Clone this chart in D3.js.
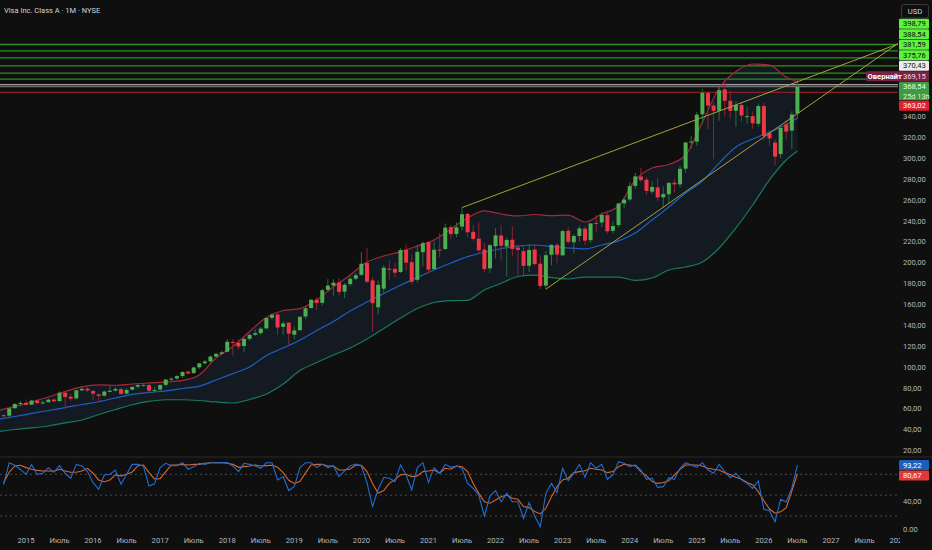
<!DOCTYPE html>
<html><head><meta charset="utf-8">
<script src="https://cdn.jsdelivr.net/npm/d3@7"></script>
<style>
html,body{margin:0;padding:0;background:#0f0f0f;overflow:hidden}
svg{display:block}
text{font-family:'Liberation Sans Narrow','Roboto',sans-serif}
</style></head>
<body><svg id="c" width="932" height="550"></svg>
<script>
// ---------- DATA ----------
const title = "Visa Inc. Class A · 1M · NYSE";
const firstBar = {year: 2014, month: 9}; // monthly bars start Sep 2014
const opens = [53.8,53.4,60.5,64.6,
65.6,63.9,67.9,65.5,66.3,68.8,67.3,75.4,71.5,69.9,77.6,79.3,
77.1,73.8,72.5,76.2,77.4,78.8,74.5,78.2,81.2,82.8,82.6,77.7,
78.4,82.9,88.0,89.0,91.4,95.5,94.2,99.7,103.6,105.4,110.0,112.6,
114.6,124.0,123.3,120.1,127.0,130.9,132.5,137.0,147.1,150.3,138.5,142.5,
131.0,135.3,148.4,156.5,164.5,161.5,173.9,178.0,181.0,172.2,179.5,184.6,
188.3,199.6,183.0,157.2,175.0,194.2,194.0,191.0,212.3,200.4,183.5,210.0,
219.6,193.8,212.5,213.0,234.0,227.5,234.5,246.6,229.5,223.0,212.5,194.5,
215.7,226.0,215.5,222.0,214.5,211.0,197.0,212.5,199.0,178.0,207.5,217.0,
207.0,230.5,219.5,225.5,232.5,221.5,238.0,238.5,245.5,230.5,236.0,256.7,
260.5,273.5,282.5,279.5,268.0,272.0,262.5,265.5,276.5,275.0,290.0,315.5,
316.0,342.0,362.5,350.5,345.5,366.0,355.0,345.5,351.0,339.8,340.3,333.0,
350.0,324.0,315.0,304.0,332.5,326.5,343.0];
const highs = [54.7,61.0,65.2,67.4,
68.6,68.7,69.7,67.9,69.8,70.1,76.8,77.0,74.5,78.3,81.7,80.6,
77.4,74.5,77.3,81.7,80.7,80.1,79.8,81.6,83.4,83.7,83.9,80.9,
83.3,88.6,90.1,92.3,95.8,96.9,100.2,104.0,106.8,111.1,113.6,115.6,
126.9,126.9,126.5,128.6,132.4,136.2,138.5,147.4,151.6,151.4,143.9,142.8,
138.8,148.4,158.4,165.1,166.8,175.0,184.1,184.1,185.2,180.5,187.1,190.0,
210.1,214.2,186.0,183.0,197.5,202.2,199.7,214.0,217.4,208.0,217.4,220.4,
220.4,220.4,228.3,237.5,236.0,238.6,252.7,248.0,236.0,238.6,219.0,218.0,
233.0,235.9,224.0,235.0,217.0,217.0,217.6,217.6,207.0,211.0,217.6,219.0,
231.5,234.3,227.4,235.6,234.5,238.0,245.4,248.2,250.0,240.0,257.0,263.3,
277.0,286.0,291.0,282.0,278.0,281.0,273.0,277.5,280.0,293.0,316.0,321.6,
344.5,366.5,364.0,354.0,367.0,375.5,364.5,355.0,354.0,349.0,345.0,352.5,
353.0,327.0,318.0,331.0,336.0,345.0,375.5];
const lows = [52.0,50.8,59.9,62.3,
63.2,63.5,64.5,64.1,65.9,66.5,67.0,60.0,67.6,68.8,77.2,76.1,
67.7,66.1,71.7,75.9,76.6,73.3,73.8,77.9,79.2,80.8,75.2,75.2,
77.1,81.5,86.5,87.6,89.3,92.9,93.5,98.0,102.2,104.5,109.3,111.3,
114.3,111.0,116.8,114.0,125.1,129.6,130.5,136.0,145.3,130.6,131.1,121.6,
126.4,134.4,146.1,156.1,154.5,158.8,171.5,168.0,168.3,166.0,177.0,183.1,
187.3,180.4,133.9,150.6,171.1,184.0,185.6,190.0,192.0,179.2,181.0,196.3,
190.1,192.8,205.3,212.0,222.7,224.4,230.5,224.6,221.0,208.6,191.0,190.1,
204.0,201.7,186.7,206.0,185.9,186.7,191.0,197.0,174.6,174.6,197.5,199.5,
206.5,218.0,208.8,220.0,217.0,219.0,229.4,234.0,227.6,227.8,234.0,252.0,
258.9,271.0,277.0,265.0,265.8,258.6,252.7,256.0,267.0,272.0,286.0,309.0,
312.0,333.0,328.0,299.0,336.0,340.0,338.0,330.0,335.0,333.0,328.0,330.0,
317.0,312.0,293.0,300.0,318.0,309.0,338.0];
const closes = [53.35,60.35,64.55,65.55,
63.72,67.83,65.41,66.05,68.68,67.15,75.34,71.3,69.66,77.58,79.02,77.55,
74.49,72.39,76.48,77.24,78.94,74.17,78.05,80.9,82.7,82.51,77.33,78.02,
82.71,87.94,88.87,91.22,95.23,93.78,99.56,103.51,105.24,109.98,112.59,114.02,
124.23,122.94,119.62,126.88,130.73,132.45,136.74,146.89,150.09,137.85,141.71,131.94,
135.01,148.12,156.19,164.43,161.34,173.55,178.0,180.82,172.01,178.86,184.51,187.9,
198.97,181.76,161.12,178.71,195.23,193.17,190.4,211.99,199.97,181.71,210.35,218.73,
193.24,212.39,211.73,233.56,227.3,233.82,246.38,229.1,222.75,211.77,193.78,216.71,
226.17,216.11,221.77,213.13,212.17,196.89,212.11,198.65,177.65,207.16,217.0,207.76,
230.21,219.94,225.46,232.73,221.05,237.48,237.73,245.67,230.01,235.1,256.69,260.35,
273.26,282.63,279.08,268.61,272.46,262.47,265.68,276.35,274.95,289.85,315.06,316.04,
341.79,362.66,350.46,345.47,365.23,355.05,345.48,351.0,341.0,340.3,333.5,350.0,
321.3,319.0,301.5,329.0,325.5,342.0,368.54];

// Bollinger band readings (month offset from Jan 2015)
const bandMonths = [-5,-2,1,4,7,10,13,16,19,22,25,28,31,34,37,40,43,46,49,52,55,58,61,64,67,70,73,76,79,82,85,88,91,94,97,100,103,106,109,112,115,118,121,124,127,130,133,136,138];
const bandUpper = [58.3,62.2,66.5,71.3,76.5,81.0,82.8,82.5,83.7,84.7,85.6,87.1,92.3,108.6,119.6,134.0,147.4,154.1,156.0,164.2,176.9,188.1,200.6,206.3,210.5,215.9,221.7,232.2,242.8,249.5,246.6,244.7,246.1,245.1,245.6,238.9,246.6,254.3,279.2,290.7,294.0,303.1,334.7,367.3,383.1,390.3,389.3,377.8,373.1];
const bandMiddle = [49.9,52.6,55.5,58.3,61.1,64.1,66.7,70.3,73.7,75.6,77.2,79.4,81.6,87.5,93.6,100.0,111.0,118.2,125.6,135.0,143.6,153.7,162.3,170.4,178.4,185.7,192.9,199.6,205.7,209.9,213.5,215.9,216.9,215.4,214.0,213.2,216.9,220.9,228.4,240.8,253.3,266.7,278.2,295.4,310.8,318.4,325.1,332.3,338.6];
const bandLower = [38.1,40.1,41.6,43.5,46.5,49.2,54.5,59.3,63.8,67.1,68.6,68.6,67.9,66.5,65.5,68.9,74.1,83.7,96.6,104.3,111.5,118.2,126.8,136.9,146.9,156.0,161.8,163.5,163.9,173.8,180.2,186.7,188.1,185.7,184.3,186.2,186.2,186.2,182.9,185.3,192.9,195.8,200.6,214.0,233.2,255.2,279.2,298.3,306.9];

// Stochastic RSI (one value per bar)
const stochK = [65,96.7,93,87,
80,94,80,81.5,89.6,83,92.5,81.5,74.3,94.3,
92,84,68,58.5,79,80,86,65.7,80,94.3,
94.3,92,63.3,66.2,89.6,95.8,92.5,92.5,96.7,87.3,
91,95.8,94.3,96.7,96.7,96.7,97,92,84,95.8,
94.3,92,88.6,96.7,96.7,71.9,76.7,56.6,62.4,89.6,
96.7,96.7,90,94.3,89.6,92,76.7,84.9,92,94.8,
92,68.1,33.6,58.5,75.3,74.3,69.5,93.4,79,57.5,
89.6,96.7,68.1,89.6,81.5,94.3,90,92,88.6,66.9,
59.8,50.2,20,48.8,56.6,40.6,52.6,40.6,40.6,16.7,
39.2,20,4.6,52.6,66.9,53.6,88.6,70.8,81.5,94.3,
75.6,96.7,88.6,94.3,72.8,79.2,98.2,95.8,91,93.4,
86.2,72.8,74.3,61.3,62.2,75.2,72.8,88.6,96.7,93.4,
90,96.7,86.2,81.5,94.3,83.9,75.2,81.5,71.9,66.9,
59.8,70.4,29.6,27.7,11.9,44,40.2,60,93.22];
const stochD = [68.1,83,92,93,
89.6,87.2,85.7,84.7,84.7,84.3,87.2,84.7,83,83,
84.7,88.6,81.5,71.9,69,71.9,79.2,77.7,80,83.4,
92,93.4,82.4,73.3,73.8,83.9,93.4,93.4,94.3,93.4,
94.3,94.3,95.8,96.7,96.7,96.7,95.8,94.3,90,91,
92,93.4,92,92.5,93,90,82.4,71.4,66.9,69.5,
82,93.4,94.3,94.3,92,92,86.2,86.2,87.7,93.4,
93,83.9,66.9,52.6,56.6,66.9,72.3,79.2,80,76.7,
77.7,83.9,84.7,86.2,81.5,88.6,87.2,92,91,83.9,
66.9,52.6,40.6,38.3,43,47.8,50.2,45.4,44,33.6,
32.1,26.4,23,31.1,47.8,62.2,71.9,74.3,82.4,83.9,
85.2,88.6,87.2,86.2,82.4,83.9,91,94.3,93.4,92,
83.9,77.7,69.5,66.9,68.1,70.8,79.2,87.2,93.4,93.4,
93.4,92,88.6,87.2,86.2,82.4,79.2,75.6,72.8,68.1,
64.6,55.1,42,30,24,26,32,56,80.67];

const priceTicks = [20,40,60,80,100,120,140,160,180,200,220,240,260,280,300,320,340];
const oscTicks = [0,40];
const oscGuides = [80,50,20];
const timeLabels = ["2015","Июль","2016","Июль","2017","Июль","2018","Июль","2019","Июль","2020","Июль","2021","Июль","2022","Июль","2023","Июль","2024","Июль","2025","Июль","2026","Июль","2027","Июль","2028"];

const greenLevels = [409.0,402.8,396.1,388.54,381.59,375.76];
const whiteLevel = 370.43, currentPrice = 368.54, redLevel = 363.02;
const overnightPrice = 369.15;
const countdown = "25d 13h";
// trend lines: [monthFrom, priceFrom, monthTo, priceTo]
const trendLines = [[78,252.7,156,409.5],[93,174.6,156,410.0]];
const greenLabels = [398.79,388.54,381.59,375.76];

// ---------- SCALES ----------
const svg = d3.select("#c");
const PR = 898;               // right edge of plot
const x = d3.scaleLinear().domain([0,156]).range([26, 26+156*5.59]);
const y = d3.scaleLinear().domain([20,340]).range([450.5,116.5]);
const yo = d3.scaleLinear().domain([0,100]).range([529.9,460.4]);
const fmt = v => d3.format(".2f")(v).replace(".", ",");
const off = (firstBar.year-2015)*12 + (firstBar.month-1);
const bars = closes.map((c,i)=>({m:off+i,o:opens[i],h:highs[i],l:lows[i],c}));

svg.append("rect").attr("width",932).attr("height",550).attr("fill","#0f0f0f");
const defs = svg.append("defs");
defs.append("clipPath").attr("id","cm").append("rect").attr("x",0).attr("y",0).attr("width",PR).attr("height",457);
defs.append("clipPath").attr("id","co").append("rect").attr("x",0).attr("y",457).attr("width",PR).attr("height",80);
defs.append("clipPath").attr("id","ct").append("rect").attr("x",0).attr("y",530).attr("width",900).attr("height",20);

const main = svg.append("g").attr("clip-path","url(#cm)");
const bandPts = bandMonths.map((m,i)=>({m,u:bandUpper[i],mid:bandMiddle[i],lo:bandLower[i]}));
main.append("path").datum(bandPts)
  .attr("d", d3.area().x(d=>x(d.m)).y0(d=>y(d.lo)).y1(d=>y(d.u)).curve(d3.curveMonotoneX))
  .attr("fill","#131a22");

// horizontal levels
greenLevels.forEach(p=>main.append("line").attr("x1",0).attr("x2",PR).attr("y1",y(p)).attr("y2",y(p))
  .attr("stroke","#2f8f22").attr("stroke-width",1.3));
[[whiteLevel,"#cfcfcf"],[currentPrice,"#6f6f6f"],[redLevel,"#8a1d26"]].forEach(([p,c])=>
  main.append("line").attr("x1",0).attr("x2",PR).attr("y1",y(p)).attr("y2",y(p)).attr("stroke",c).attr("stroke-width",1.2));

const bandLine = (key,col)=>main.append("path").datum(bandPts)
  .attr("d", d3.line().x(d=>x(d.m)).y(d=>y(d[key])).curve(d3.curveMonotoneX))
  .attr("fill","none").attr("stroke",col).attr("stroke-width",1.2);
bandLine("u","#a8283a"); bandLine("mid","#1f5fc4"); bandLine("lo","#1a7a5c");

// candles
const cg = main.append("g");
bars.forEach(b=>{
  const up = b.c>=b.o;
  cg.append("line").attr("x1",x(b.m)).attr("x2",x(b.m)).attr("y1",y(b.h)).attr("y2",y(b.l))
    .attr("stroke", up?"#2b6d37":"#8a2530").attr("stroke-width",1);
  const top = y(Math.max(b.o,b.c)), bot = y(Math.min(b.o,b.c));
  cg.append("rect").attr("x",x(b.m)-2).attr("width",4).attr("y",top).attr("height",Math.max(1,bot-top))
    .attr("fill", up?"#4caf50":"#f23645");
});

// trend lines
trendLines.forEach(t=>main.append("line").attr("x1",x(t[0])).attr("y1",y(t[1])).attr("x2",x(t[2])).attr("y2",y(t[3]))
  .attr("stroke","#a6a23a").attr("stroke-width",1));

// pane separator
svg.append("line").attr("x1",0).attr("x2",932).attr("y1",457).attr("y2",457).attr("stroke","#2a2a2a");

// oscillator
const osc = svg.append("g").attr("clip-path","url(#co)");
oscGuides.forEach(v=>osc.append("line").attr("x1",0).attr("x2",PR).attr("y1",yo(v)).attr("y2",yo(v))
  .attr("stroke","#4a4a4a").attr("stroke-dasharray","2,3"));
const oline = (arr,col)=>osc.append("path").datum(arr)
  .attr("d", d3.line().x((d,i)=>x(off+i)).y(d=>yo(d)))
  .attr("fill","none").attr("stroke",col).attr("stroke-width",1.1);
oline(stochD,"#d9662c"); oline(stochK,"#1f6fd4");

// title
svg.append("text").attr("x",4).attr("y",13.3).attr("fill","#d1d4dc").attr("font-size",7.5).text(title);

// price axis labels
const ax = svg.append("g").attr("font-size",7.6).attr("fill","#b2b5be");
priceTicks.forEach(p=>ax.append("text").attr("x",903).attr("y",y(p)+2.7).text(fmt(p)));
oscTicks.forEach(v=>ax.append("text").attr("x",903).attr("y",yo(v)+2.2).text(v===0?"0.00":fmt(v)));

// time axis
const tg = svg.append("g").attr("clip-path","url(#ct)").attr("font-size",7.6).attr("fill","#b2b5be").attr("text-anchor","middle");
timeLabels.forEach((t,i)=>tg.append("text").attr("x",x(i*6)).attr("y",542.7).text(t));

// stacked price labels
const LH=10, GAP=0.5, BX=899, BW=30;
function box(top,h,bg){ svg.append("rect").attr("x",BX).attr("y",top).attr("width",BW).attr("height",h).attr("fill",bg).attr("rx",1); }
function lbl(top,txt,fg,bold){ svg.append("text").attr("x",903).attr("y",top+LH/2+2.7).attr("font-size",7.6).attr("fill",fg)
  .attr("font-weight",bold?"bold":null).text(txt); }
const anchorTop = y(currentPrice)-LH/2, anchorH = 18.5;
box(anchorTop,anchorH,"#3f9a44"); lbl(anchorTop,fmt(currentPrice),"#eaffea");
svg.append("text").attr("x",903).attr("y",anchorTop+LH+LH/2+2.2).attr("font-size",7.4).attr("fill","#d8f5d8").text(countdown);
const above = [
  {p:overnightPrice,bg:"#7a2246",fg:"#f3d9e3",tag:"Овернайт"},
  {p:whiteLevel,bg:"#ececec",fg:"#161616"},
  ...greenLabels.map(p=>({p,bg:"#5df23d",fg:"#0c0c0c"}))
].sort((a,b)=>a.p-b.p);
let curTop = anchorTop;
above.forEach(l=>{
  const t = Math.min(y(l.p)-LH/2, curTop-GAP-LH); curTop = t;
  if(l.tag){ svg.append("rect").attr("x",866).attr("y",t).attr("width",BX-866+BW).attr("height",LH).attr("fill",l.bg).attr("rx",1);
    svg.append("text").attr("x",867.5).attr("y",t+LH/2+2.7).attr("font-size",7.6).attr("font-weight","bold").attr("fill","#ffffff").text(l.tag); }
  else box(t,LH,l.bg);
  lbl(t,fmt(l.p),l.fg);
});
const rt = Math.max(y(redLevel)-LH/2, anchorTop+anchorH+GAP);
box(rt,LH,"#e0202e"); lbl(rt,fmt(redLevel),"#ffffff");

// oscillator value labels
const kT = yo(stochK[stochK.length-1])-LH/2;
box(kT,LH,"#1c5fb8"); lbl(kT,fmt(stochK[stochK.length-1]),"#ffffff");
const dT = Math.max(yo(stochD[stochD.length-1])-LH/2, kT+LH+GAP);
box(dT,LH,"#e0393b"); lbl(dT,fmt(stochD[stochD.length-1]),"#ffffff");

// USD button
svg.append("rect").attr("x",901.5).attr("y",4.5).attr("width",27).attr("height",13.5).attr("rx",2)
  .attr("fill","#0f0f0f").attr("stroke","#3a3a3a");
svg.append("text").attr("x",915).attr("y",13.8).attr("text-anchor","middle").attr("font-size",7.6).attr("fill","#d1d4dc").text("USD");
</script></body></html>
